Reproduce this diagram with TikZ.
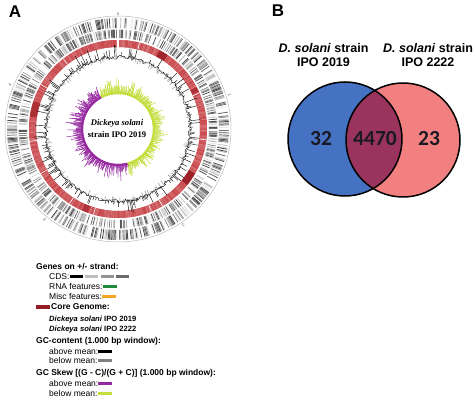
\documentclass[tikz,border=0pt]{standalone}
\usepackage{fontspec}
\setmainfont{Liberation Sans}
\newfontfamily\serifface{Liberation Serif}
\newfontfamily\carlface{Carlito}
\definecolor{coreRed}{RGB}{200,70,74}
\definecolor{coreDark}{RGB}{150,28,36}
\definecolor{skewGreen}{RGB}{196,222,60}
\definecolor{skewPurple}{RGB}{150,40,160}
\definecolor{rnaGreen}{RGB}{30,140,60}
\definecolor{miscOrange}{RGB}{245,165,35}
\definecolor{vennBlue}{RGB}{70,114,196}
\definecolor{vennPink}{RGB}{242,128,128}
\definecolor{vennMix}{RGB}{155,52,92}
\definecolor{numInk}{RGB}{25,25,35}
\begin{document}
\begin{tikzpicture}[x=1pt,y=-1pt,
  legtext/.style={anchor=west,inner sep=0pt,font=\fontsize{8.5}{10}\selectfont},
  leghead/.style={anchor=west,inner sep=0pt,font=\bfseries\fontsize{8.5}{10}\selectfont},
  legstrain/.style={anchor=west,inner sep=0pt,font=\bfseries\fontsize{7.6}{9}\selectfont},
  swatch/.style={anchor=west,minimum width=14pt,minimum height=3pt,inner sep=0pt,draw=none},
  panel/.style={inner sep=0pt,font=\bfseries\fontsize{17}{20}\selectfont},
  ticklab/.style={inner sep=0pt,font=\fontsize{4}{5}\selectfont,text=black!70},
  vennlab/.style={align=center,inner sep=0pt,font=\bfseries\fontsize{12.5}{14}\selectfont},
  vennnum/.style={inner sep=0pt,font=\carlface\bfseries\fontsize{21.5}{24}\selectfont,text=numInk}]
\useasboundingbox (0,0) rectangle (474,398);
\fill[white] (0,0) rectangle (474,398);

\node[panel] (pA) at (15,12) {A};
\node[panel] (pB) at (278,11) {B};

% ---------------- circular genome map ----------------
\begin{scope}[shift={(118,129)}]
\pgfmathsetseed{4242}
\draw[gray!55, line width=0.5pt] (0,0) circle[radius=113];
% gene rings
\foreach \a in {0.9,1.5,...,359.4}{
  \pgfmathsetmacro\g{max(0,rnd*110-35)}
  \draw[line width=0.95pt, black!\g] (\a-90:101) -- (\a-90:111);
}
\foreach \a in {0.9,1.5,...,359.4}{
  \pgfmathsetmacro\g{max(0,rnd*110-35)}
  \draw[line width=0.9pt, black!\g] (\a-90:91) -- (\a-90:99.5);
}
% core genome ring
\fill[coreRed, even odd rule] (0,0) circle[radius=89] (0,0) circle[radius=82];
\foreach \a in {0.5,1.3,...,359.5}{
  \pgfmathsetmacro\v{72+rnd*28}
  \draw[line width=1pt, coreRed!\v!white] (\a-90:82) -- (\a-90:89);
}
\foreach \s/\w/\c in {28/6/80, 120/9/90, 278/10/55, 62/3/50, 200/4/45}{
  \draw[coreDark!\c!coreRed, line width=7pt] (\s-90:85.5) arc[start angle=\s-90, end angle=\s-90+\w, radius=85.5];
}
\foreach \a in {14,66,97,150,158,196,213,240,262,300,322}{
  \draw[white, line width=0.6pt] (\a-90:82) -- (\a-90:89);
}
\draw[white, line width=2.2pt] (-90:80) -- (-90:112);
% GC content
\draw[black, line width=0.35pt] (-90:72) \foreach \a in {1,2,...,360}{ -- (\a-90:{72+(rnd-0.5)*4}) };
\foreach \a in {0.5,1.5,...,359.5}{
  \pgfmathsetmacro\h{pow(rnd,4)*13}
  \pgfmathsetmacro\k{pow(rnd,3)*5}
  \draw[black, line width=0.4pt] (\a-90:72) -- (\a-90:{72+\h});
  \draw[gray, line width=0.4pt] (\a-90:72) -- (\a-90:{72-\k});
}
% GC skew
\draw[skewGreen, line width=2pt] (242:36) arc[start angle=242, end angle=435, radius=36];
\draw[skewPurple, line width=2pt] (75:36) arc[start angle=75, end angle=242, radius=36];
\foreach \a in {0,0.7,...,165}{
  \draw[skewGreen, line width=0.5pt] (\a-90:35) -- (\a-90:{37+rnd*7+pow(rnd,4)*9});
}
\foreach \a in {332.5,333.2,...,360}{
  \draw[skewGreen, line width=0.5pt] (\a-90:35) -- (\a-90:{37+rnd*7+pow(rnd,4)*9});
}
\foreach \a in {165.7,166.4,...,332}{
  \draw[skewPurple, line width=0.5pt] (\a-90:35) -- (\a-90:{37+rnd*8+pow(rnd,4)*11});
}
% centre title
\node[inner sep=0pt, font=\serifface\bfseries\itshape\fontsize{8.6}{10}\selectfont] (t1) at (-1,-6) {Dickeya solani};
\node[inner sep=0pt, font=\serifface\bfseries\fontsize{8.6}{10}\selectfont] (t2) at (-1,5.5) {strain IPO 2019};
% position labels
\node[ticklab] (k0) at (-90:115) {0};
\foreach \p/\n in {73/1,146/2,219/3,292/4}{
  \node[ticklab, rotate=-\p] (k\n) at (\p-90:116.5) {\n};
}
\end{scope}

% ---------------- legend ----------------
\node[leghead] (lg1) at (36,267) {Genes on +/- strand:};
\node[legtext] (lcds) at (49,276.5) {CDS:};
\node[swatch, minimum width=13pt, fill=black] (s1) at (70,276.5) {};
\node[swatch, minimum width=13pt, fill=black!25] (s2) at (85,276.5) {};
\node[swatch, minimum width=13pt, fill=black!42] (s3) at (101,276.5) {};
\node[swatch, minimum width=13pt, fill=black!58] (s4) at (116,276.5) {};
\node[legtext] (lrna) at (49,286.5) {RNA features:};
\node[swatch, fill=rnaGreen] (s5) at (103,286.5) {};
\node[legtext] (lmisc) at (49,296.5) {Misc features:};
\node[swatch, fill=miscOrange] (s6) at (102,296.5) {};
\node[swatch, minimum height=4pt, fill=coreDark] (s7) at (36,307) {};
\node[leghead] (lcore) at (51,307) {Core Genome:};
\node[legstrain] (ls1) at (49,320) {\textit{Dickeya solani} IPO 2019};
\node[legstrain] (ls2) at (49,329.5) {\textit{Dickeya solani} IPO 2222};
\node[leghead] (lgc) at (36,341) {GC-content (1.000 bp window):};
\node[legtext] (la1) at (49,351) {above mean:};
\node[swatch, fill=black] (s8) at (98,351) {};
\node[legtext] (lb1) at (49,360.5) {below mean:};
\node[swatch, fill=black!50] (s9) at (98,360.5) {};
\node[leghead] (lsk) at (36,373) {GC Skew [(G - C)/(G + C)] (1.000 bp window):};
\node[legtext] (la2) at (49,383) {above mean:};
\node[swatch, fill=skewPurple] (s10) at (98,383) {};
\node[legtext] (lb2) at (49,393) {below mean:};
\node[swatch, fill=skewGreen] (s11) at (98,393) {};

% ---------------- Venn diagram ----------------
\coordinate (cL) at (345,139);
\coordinate (cR) at (403,140);
\fill[vennBlue] (cL) circle[radius=57];
\fill[vennPink] (cR) circle[radius=57];
\begin{scope}
  \clip (cL) circle[radius=57];
  \fill[vennMix] (cR) circle[radius=57];
\end{scope}
\draw[black, line width=1.5pt] (cL) circle[radius=57];
\draw[black, line width=1.5pt] (cR) circle[radius=57];
\node[vennlab] (vl) at (323.5,55) {\textit{D. solani} strain\\IPO 2019};
\node[vennlab] (vr) at (428,55) {\textit{D. solani} strain\\IPO 2222};
\node[vennnum] (n1) at (321,139) {32};
\node[vennnum] (n2) at (375,139) {4470};
\node[vennnum] (n3) at (429,139) {23};
\end{tikzpicture}
\end{document}
